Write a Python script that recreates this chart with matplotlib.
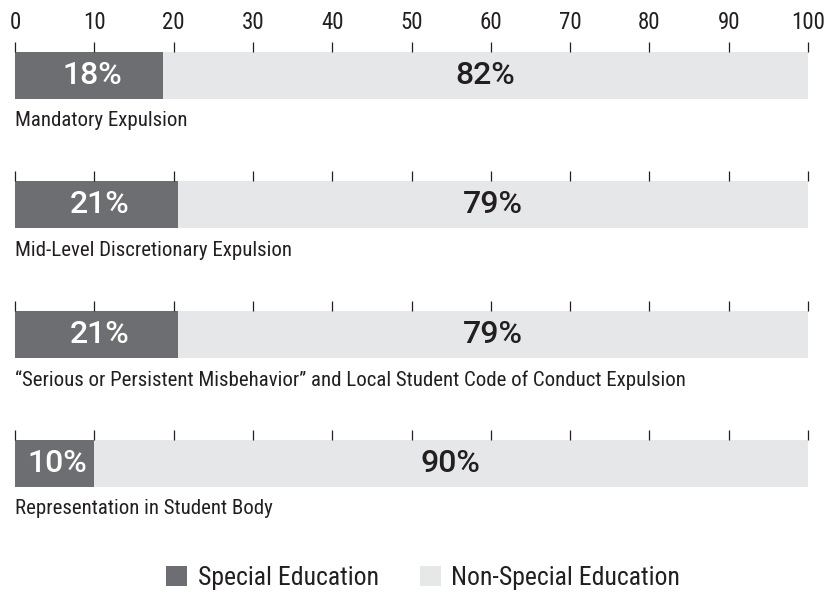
import matplotlib.pyplot as plt
from matplotlib import font_manager
from matplotlib.patches import Patch

# Data
categories = [
    "Mandatory Expulsion",
    "Mid-Level Discretionary Expulsion",
    "\u201cSerious or Persistent Misbehavior\u201d and Local Student Code of Conduct Expulsion",
    "Representation in Student Body",
]
# bar lengths (percent of group)
special_ed = [18.7, 20.5, 20.6, 9.9]
non_special_ed = [81.3, 79.5, 79.4, 90.1]
# printed labels
special_labels = ["18%", "21%", "21%", "10%"]
non_special_labels = ["82%", "79%", "79%", "90%"]
x_ticks = [0, 10, 20, 30, 40, 50, 60, 70, 80, 90, 100]
legend_labels = ["Special Education", "Non-Special Education"]

DARK = "#6d6e71"
LIGHT = "#e6e7e8"
TEXT = "#231f20"

fonts = font_manager.fontManager.ttflist
installed = {f.name for f in fonts}


def pick(candidates):
    return [c for c in candidates if c in installed] + ["DejaVu Sans"]


NARROW = pick(["Roboto Condensed", "Archivo Narrow", "PT Sans Narrow",
               "Asap Condensed", "Liberation Sans Narrow"])

# percent labels: a medium-weight sans
pct_family, pct_weight = "DejaVu Sans", "bold"
for fam in ["Roboto", "Inter", "Open Sans", "Lato"]:
    w = sorted({f.weight for f in fonts if f.name == fam and f.style == 'normal'
                and isinstance(f.weight, int) and 500 <= f.weight <= 700})
    if w:
        pct_family, pct_weight = fam, w[0]
        break
PCT = [pct_family, "DejaVu Sans"]

plt.rcParams['font.family'] = NARROW

W, H = 825, 595
fig = plt.figure(figsize=(W / 100, H / 100), dpi=100)

left_px, right_px = 15, 808
bar_tops = [52, 181, 311, 440]
bar_h = 47

for i, top in enumerate(bar_tops):
    ax = fig.add_axes([left_px / W, 1 - (top + bar_h) / H,
                       (right_px - left_px) / W, bar_h / H])
    ax.barh(0, special_ed[i], height=1, color=DARK, edgecolor='none')
    ax.barh(0, non_special_ed[i], left=special_ed[i], height=1,
            color=LIGHT, edgecolor='none')
    ax.set_xlim(0, 100)
    ax.set_ylim(-0.5, 0.5)
    ax.set_yticks([])
    for s in ax.spines.values():
        s.set_visible(False)
    ax.xaxis.tick_top()
    ax.set_xticks(x_ticks)
    ax.tick_params(axis='x', direction='out', length=7.3, width=0.9,
                   color=TEXT, labelsize=16.5, labelcolor=TEXT, pad=6)
    if i > 0:
        ax.set_xticklabels([])

    ax.text(special_ed[i] / 2 + 0.4, 0, special_labels[i], ha='center', va='center',
            color='white', fontsize=23, fontweight=pct_weight, family=PCT)
    ax.text(special_ed[i] + non_special_ed[i] / 2, 0, non_special_labels[i],
            ha='center', va='center', color=TEXT, fontsize=23,
            fontweight=pct_weight, family=PCT)
    ax.text(0, -0.5 - 22 / bar_h, categories[i], ha='left', va='center',
            color=TEXT, fontsize=15)

handles = [Patch(facecolor=DARK, edgecolor='none'),
           Patch(facecolor=LIGHT, edgecolor='none')]
fig.legend(handles, legend_labels, loc='center', bbox_to_anchor=(423 / W, 1 - 578 / H),
           ncol=2, frameon=False, fontsize=18.5, handlelength=0.82,
           handleheight=0.82, handletextpad=0.4, columnspacing=1.6,
           labelcolor=TEXT)

fig.savefig("out.png", dpi=100)
